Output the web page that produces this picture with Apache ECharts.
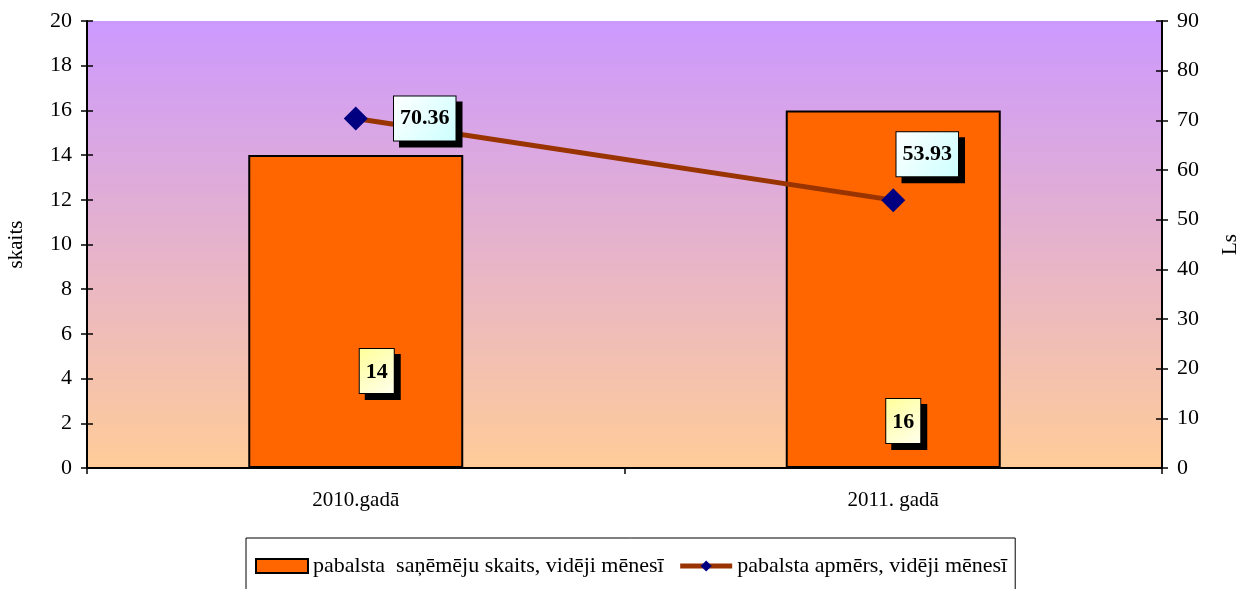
<!DOCTYPE html>
<html>
<head>
<meta charset="utf-8">
<script src="https://cdn.jsdelivr.net/npm/echarts@6/dist/echarts.min.js"></script>
<style>
  html, body { margin: 0; padding: 0; background: #fff; }
  #chart { width: 1239px; height: 589px; }
</style>
</head>
<body>
<div id="chart"></div>
<script>
// dati
const years = ['2010.gadā', '2011. gadā']
const recipients = [14, 16]
const amounts = [70.36, 53.93]
const leftTicks = { min: 0, max: 20, interval: 2 }
const rightTicks = { min: 0, max: 90, interval: 10 }

const font = '"Liberation Serif", "Times New Roman", serif'

const chart = echarts.init(document.getElementById('chart'))

// label boxes with drop shadow like the Excel original
const boxLabel = (fill, offset) => ({
  show: true,
  position: 'inside',
  offset: offset,
  color: '#000',
  fontFamily: font,
  fontWeight: 'bold',
  fontSize: 22,
  backgroundColor: fill,
  borderColor: '#000',
  borderWidth: 1,
  padding: [12, 6, 10, 6],
  shadowColor: '#000',
  shadowOffsetX: 6,
  shadowOffsetY: 6,
  shadowBlur: 0
})
const yellowFill = {
  type: 'linear', x: 0, y: 0, x2: 1, y2: 1,
  colorStops: [{ offset: 0, color: '#ffff99' }, { offset: 1, color: '#ffffee' }]
}
const cyanFill = {
  type: 'linear', x: 0, y: 0, x2: 1, y2: 1,
  colorStops: [{ offset: 0, color: '#ffffff' }, { offset: 1, color: '#ccffff' }]
}
const barLabelOffsets = [[21, -70], [10, -20]]
const lineLabelOffsets = [[69, 0], [34, -46]]

const axisText = { color: '#000', fontFamily: font, fontSize: 22 }
const tick = { show: true, length: 6, lineStyle: { color: '#000', width: 1.5 } }

chart.setOption({
  animation: false,
  textStyle: { fontFamily: font },
  grid: {
    left: 87, right: 77, top: 21, bottom: 121,
    containLabel: false,
    outerBoundsMode: 'none',
    show: true,
    borderWidth: 0,
    backgroundColor: {
      type: 'linear', x: 0, y: 0, x2: 0, y2: 1,
      colorStops: [{ offset: 0, color: '#cc99ff' }, { offset: 1, color: '#ffcc99' }]
    }
  },
  legend: {
    left: 246, top: 538,
    padding: [17, 8, 20, 9],
    itemGap: 14,
    itemWidth: 52,
    itemHeight: 14,
    borderColor: '#000',
    borderWidth: 1,
    backgroundColor: '#fff',
    textStyle: { color: '#000', fontFamily: font, fontSize: 22 },
    data: [
      { name: 'pabalsta  saņēmēju skaits, vidēji mēnesī', icon: 'rect' },
      { name: 'pabalsta apmērs, vidēji mēnesī', lineStyle: { width: 5, color: '#993300' } }
    ]
  },
  xAxis: {
    type: 'category',
    data: years,
    axisLine: { lineStyle: { color: '#000', width: 2 } },
    axisTick: tick,
    axisLabel: { ...axisText, fontSize: 21, margin: 22 }
  },
  yAxis: [
    {
      type: 'value', ...leftTicks,
      name: 'skaits', nameLocation: 'middle', nameGap: 60, nameRotate: 90,
      nameTextStyle: { ...axisText, fontSize: 21 },
      axisLine: { show: true, lineStyle: { color: '#000', width: 2 } },
      axisTick: tick,
      axisLabel: { ...axisText, margin: 15 },
      splitLine: { show: false }
    },
    {
      type: 'value', ...rightTicks, position: 'right',
      name: 'Ls', nameLocation: 'middle', nameGap: 58, nameRotate: 90,
      nameTextStyle: { ...axisText, fontSize: 21 },
      axisLine: { show: true, lineStyle: { color: '#000', width: 2 } },
      axisTick: tick,
      axisLabel: { ...axisText, margin: 15 },
      splitLine: { show: false }
    },
    {
      // inner half of the crossing ticks on the left
      type: 'value', ...leftTicks, position: 'left',
      axisLine: { show: false },
      axisTick: { ...tick, inside: true },
      axisLabel: { show: false },
      splitLine: { show: false }
    },
    {
      type: 'value', ...rightTicks, position: 'right',
      axisLine: { show: false },
      axisTick: { ...tick, inside: true },
      axisLabel: { show: false },
      splitLine: { show: false }
    }
  ],
  series: [
    {
      name: 'pabalsta  saņēmēju skaits, vidēji mēnesī',
      type: 'bar',
      yAxisIndex: 0,
      barWidth: '40%',
      itemStyle: { color: '#ff6600', borderColor: '#000', borderWidth: 2 },
      data: recipients.map((v, i) => ({
        value: v,
        label: { ...boxLabel(yellowFill, barLabelOffsets[i]), position: 'insideBottom' }
      })),
      label: { show: true },
      z: 2
    },
    {
      name: 'pabalsta apmērs, vidēji mēnesī',
      type: 'line',
      yAxisIndex: 1,
      symbol: 'diamond',
      symbolSize: 24,
      itemStyle: { color: '#000080' },
      lineStyle: { color: '#993300', width: 5 },
      data: amounts.map((v, i) => ({
        value: v,
        label: boxLabel(cyanFill, lineLabelOffsets[i])
      })),
      label: { show: true },
      z: 3
    }
  ]
})
</script>
</body>
</html>
